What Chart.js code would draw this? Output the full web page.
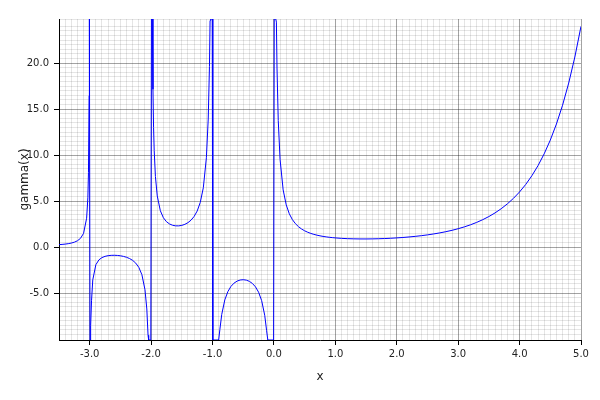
<!DOCTYPE html>
<html lang="en">
<head>
    <meta charset="UTF-8">
    <title>gamma(x)</title>
    <script src="https://cdn.jsdelivr.net/npm/chart.js"></script>
    <style>
        html, body { margin: 0; padding: 0; background: #fff; }
        #wrap { width: 600px; height: 400px; }
    </style>
</head>
<body>
    <div id="wrap"><canvas id="gammaChart"></canvas></div>
    <script>
        // axis range and labelled ticks
        const xMin = -3.5, xMax = 5.0;
        const yMin = -10.1, yMax = 24.8;
        const xMajor = [-3, -2, -1, 0, 1, 2, 3, 4, 5];
        const yMajor = [-5, 0, 5, 10, 15, 20];

        // curve samples (x, gamma(x)); values past the frame sit on its edge
        const xs = [
            -3.5, -3.45, -3.4, -3.35, -3.3, -3.25, -3.2, -3.15, -3.1, -3.05, -3.03, -3.02, -3.01, -3.005,
            -2.995, -2.99, -2.98, -2.97, -2.95, -2.9, -2.85, -2.8, -2.75, -2.7, -2.65, -2.6, -2.55, -2.5,
            -2.45, -2.4, -2.35, -2.3, -2.25, -2.2, -2.15, -2.1, -2.07, -2.05, -2.04, -2.005,
            -1.995, -1.98, -1.97, -1.96, -1.95, -1.93, -1.9, -1.85, -1.8, -1.75, -1.7, -1.65, -1.6, -1.55,
            -1.5, -1.45, -1.4, -1.35, -1.3, -1.25, -1.2, -1.15, -1.1, -1.07, -1.05, -1.04, -1.03, -1.005,
            -0.995, -0.9, -0.88, -0.85, -0.8, -0.75, -0.7, -0.65, -0.6, -0.55, -0.5, -0.45, -0.4, -0.35,
            -0.3, -0.25, -0.2, -0.15, -0.12, -0.1, -0.005,
            0.005, 0.03, 0.04, 0.05, 0.07, 0.1, 0.15, 0.2, 0.25, 0.3, 0.35, 0.4, 0.45, 0.5, 0.55, 0.6,
            0.65, 0.7, 0.75, 0.8, 0.85, 0.9, 0.95, 1.0, 1.1, 1.2, 1.3, 1.4, 1.5, 1.6, 1.7, 1.8, 1.9,
            2.0, 2.1, 2.2, 2.3, 2.4, 2.5, 2.6, 2.7, 2.8, 2.9, 3.0, 3.1, 3.2, 3.3, 3.4, 3.5, 3.6, 3.7,
            3.8, 3.9, 4.0, 4.1, 4.2, 4.3, 4.4, 4.5, 4.6, 4.7, 4.8, 4.9, 5.0
        ];
        const ys = [
            0.270, 0.293, 0.326, 0.372, 0.439, 0.536, 0.689, 0.952, 1.492, 3.142, 5.355, 8.130, 16.46, 24.8,
            -10.1, -10.1, -8.550, -5.777, -3.563, -1.918, -1.388, -1.139, -1.005, -0.931, -0.896, -0.889, -0.905, -0.945,
            -1.011, -1.108, -1.247, -1.447, -1.743, -2.205, -3.000, -4.626, -6.727, -9.584, -10.1, -10.1,
            24.8, 24.8, 17.157, 13.000, 10.510, 7.673, 5.563, 3.956, 3.188, 2.762, 2.514, 2.374, 2.311, 2.309,
            2.363, 2.477, 2.659, 2.931, 3.329, 3.921, 4.851, 6.449, 9.715, 13.925, 19.648, 24.63, 24.8, 24.8,
            -10.1, -10.1, -8.935, -7.318, -5.739, -4.834, -4.274, -3.917, -3.697, -3.578, -3.545, -3.591, -3.723, -3.957,
            -4.327, -4.902, -5.821, -7.417, -9.044, -10.1, -10.1,
            24.8, 24.8, 24.461, 19.470, 13.773, 9.514, 6.220, 4.591, 3.626, 2.992, 2.546, 2.218, 1.968, 1.772, 1.616, 1.489,
            1.385, 1.298, 1.225, 1.164, 1.113, 1.069, 1.032, 1.000, 0.951, 0.918, 0.898, 0.887, 0.886, 0.894, 0.909, 0.931, 0.962,
            1.000, 1.047, 1.102, 1.167, 1.242, 1.329, 1.430, 1.545, 1.677, 1.827, 2.000, 2.198, 2.424, 2.683, 2.981, 3.323, 3.717, 4.171,
            4.695, 5.299, 6.000, 6.813, 7.757, 8.855, 10.136, 11.632, 13.381, 15.431, 17.837, 20.667, 24.0
        ];

        const isMajor = (v, list) => list.some(m => Math.abs(m - v) < 1e-6);
        // translucent so crossings don't wash out the major lines
        const majorGrid = 'rgba(0,0,0,0.36)';
        const minorGrid = 'rgba(0,0,0,0.1)';

        new Chart(document.getElementById('gammaChart'), {
            type: 'line',
            data: {
                datasets: [{
                    data: xs.map((x, i) => ({ x: x, y: ys[i] })),
                    borderColor: '#0000ff',
                    borderWidth: 1,
                    pointRadius: 0,
                    tension: 0,
                    fill: false
                }]
            },
            options: {
                responsive: true,
                maintainAspectRatio: false,
                animation: false,
                layout: { padding: { top: 19, right: 19, left: 0, bottom: 0 } },
                plugins: { legend: { display: false }, tooltip: { enabled: false } },
                scales: {
                    x: {
                        type: 'linear',
                        min: xMin,
                        max: xMax,
                        afterFit: s => { s.height = 60; },
                        border: { color: '#000', width: 1 },
                        grid: {
                            color: c => isMajor(c.tick.value, xMajor) ? majorGrid : minorGrid,
                            tickColor: c => isMajor(c.tick.value, xMajor) ? '#000' : 'rgba(0,0,0,0)',
                            tickLength: 5
                        },
                        ticks: {
                            stepSize: 0.1,
                            autoSkip: false,
                            maxRotation: 0,
                            padding: 3,
                            color: '#222',
                            font: { family: 'DejaVu Sans', size: 10 },
                            callback: v => isMajor(v, xMajor) ? v.toFixed(1) : ''
                        },
                        title: {
                            display: true,
                            text: 'x',
                            color: '#222',
                            font: { family: 'DejaVu Sans', size: 12 },
                            padding: { top: 4, bottom: 16 }
                        }
                    },
                    y: {
                        type: 'linear',
                        min: yMin,
                        max: yMax,
                        afterFit: s => { s.width = 59; },
                        border: { color: '#000', width: 1 },
                        grid: {
                            color: c => isMajor(c.tick.value, yMajor) ? majorGrid : minorGrid,
                            tickColor: c => isMajor(c.tick.value, yMajor) ? '#000' : 'rgba(0,0,0,0)',
                            tickLength: 5
                        },
                        ticks: {
                            stepSize: 0.5,
                            autoSkip: false,
                            padding: 5,
                            color: '#222',
                            font: { family: 'DejaVu Sans', size: 10 },
                            callback: v => isMajor(v, yMajor) ? v.toFixed(1) : ''
                        },
                        title: {
                            display: true,
                            text: 'gamma(x)',
                            color: '#222',
                            font: { family: 'DejaVu Sans', size: 12 },
                            padding: { top: 18, bottom: 0 }
                        }
                    }
                }
            }
        });
    </script>
</body>
</html>
